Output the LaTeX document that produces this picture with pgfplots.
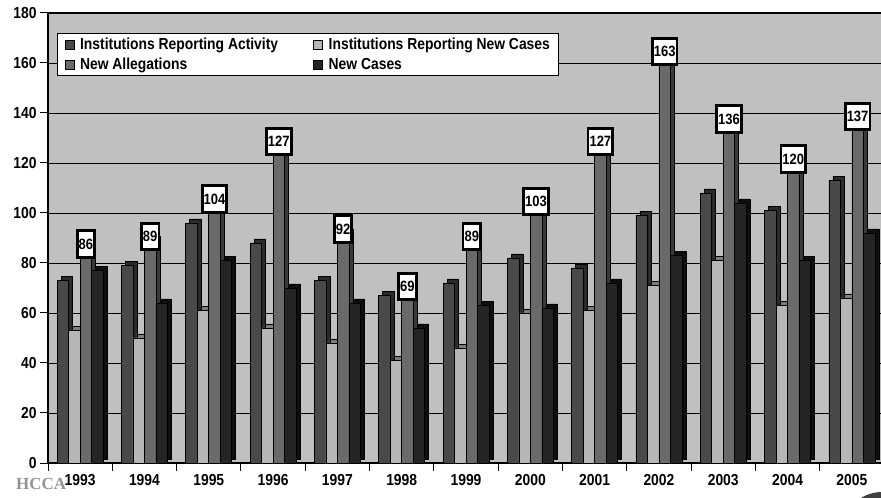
\documentclass[border=0pt]{standalone}
\usepackage{pgfplots}
\pgfplotsset{compat=1.18}
\usepackage{pgfplotstable}
\usepackage{fontspec}
\setmainfont{Liberation Sans}[FakeStretch=0.87]
\newfontfamily\serifb{Liberation Serif}
\definecolor{bg}{HTML}{C0C0C0}
\definecolor{cIRA}{HTML}{494949}
\definecolor{cIRNC}{HTML}{B6B6B6}
\definecolor{cNA}{HTML}{6A6A6A}
\definecolor{cNC}{HTML}{252525}
\definecolor{sIRA}{HTML}{2A2A2A}
\definecolor{sIRNC}{HTML}{7C7C7C}
\definecolor{sNA}{HTML}{3A3A3A}
\definecolor{sNC}{HTML}{0E0E0E}

\pgfplotstableread{
x IRA IRNC NA NC
0 73 53 86 77
1 79 50 89 64
2 96 61 104 81
3 88 54 127 70
4 73 48 92 64
5 67 41 69 54
6 72 46 89 63
7 82 60 103 62
8 78 61 127 72
9 99 71 163 83
10 108 81 136 104
11 101 63 120 81
12 113 66 137 92
}\data

\begin{document}
\begin{tikzpicture}
\path[use as bounding box] (0,0) rectangle (881bp,498bp);
\begin{axis}[
  at={(48bp,35bp)}, anchor=south west,
  scale only axis, width=836bp, height=450bp,
  xmin=-0.5, xmax=12.5, ymin=0, ymax=180,
  axis background/.style={fill=bg},
  axis line style={line width=1.4bp},
  ybar=0pt, bar width=11.5bp,
  ytick={0,20,...,180},
  ymajorgrids, grid style={black, line width=0.8bp},
  tick align=outside, major tick length=8bp,
  tick style={black, line width=1bp},
  xtick={0,...,12},
  xticklabels={1993,1994,1995,1996,1997,1998,1999,2000,2001,2002,2003,2004,2005},
  xtick style={draw=none},
  extra x ticks={-0.5,0.5,...,12.5},
  extra x tick labels={},
  extra x tick style={grid=none, xtick style={draw=black}},
  ytick pos=left, xtick pos=bottom,
  /pgf/number format/assume math mode=true,
  ticklabel style={font=\fontsize{16}{16}\selectfont\bfseries},
  legend columns=2,
  legend cell align=left,
  legend style={at={(0.0108,0.956)}, anchor=north west, draw=black, fill=white,
    font=\fontsize{16}{16}\selectfont\bfseries, line width=1bp,
    inner xsep=7bp, inner ysep=2.5bp, row sep=3bp,
    /tikz/every even column/.append style={column sep=33bp}},
  legend image code/.code={\draw[#1, draw=black, line width=0.6bp] (0bp,-4.5bp) rectangle (9bp,4.5bp); \path (13bp,0bp);},
  nodes near coords style={fill=white, draw=black, line width=2.8bp,
    inner xsep=1.5bp, inner ysep=8bp, anchor=center, yshift=4bp,
    font=\fontsize{15}{15}\selectfont\bfseries, text=black},
]
% Institutions Reporting Activity
\addplot[forget plot, fill=sIRA, draw=black, line width=0.6bp, bar shift=-17.25bp, xshift=4bp, yshift=4bp] table[x=x,y=IRA]{\data};
\addplot[fill=cIRA, draw=black, line width=0.6bp, bar shift=-17.25bp] table[x=x,y=IRA]{\data};
% Institutions Reporting New Cases
\addplot[forget plot, fill=sIRNC, draw=black, line width=0.6bp, bar shift=-5.75bp, xshift=4bp, yshift=4bp] table[x=x,y=IRNC]{\data};
\addplot[fill=cIRNC, draw=black, line width=0.6bp, bar shift=-5.75bp] table[x=x,y=IRNC]{\data};
% New Allegations
\addplot[forget plot, fill=sNA, draw=black, line width=0.6bp, bar shift=5.75bp, xshift=4bp, yshift=4bp] table[x=x,y=NA]{\data};
\addplot[fill=cNA, draw=black, line width=0.6bp, bar shift=5.75bp] table[x=x,y=NA]{\data};
% New Cases
\addplot[forget plot, fill=sNC, draw=black, line width=0.6bp, bar shift=17.25bp, xshift=4bp, yshift=4bp] table[x=x,y=NC]{\data};
\addplot[fill=cNC, draw=black, line width=0.6bp, bar shift=17.25bp] table[x=x,y=NC]{\data};
% value labels for New Allegations
\addplot[forget plot, draw=none, fill=none, bar shift=5.75bp, nodes near coords] table[x=x,y=NA]{\data};
\legend{Institutions Reporting Activity, Institutions Reporting New Cases, New Allegations, New Cases}
\end{axis}
\node[anchor=south west, inner sep=0pt, font=\serifb\bfseries\fontsize{17}{17}\selectfont, text=gray!85] at (16bp,8bp) {HCCA};
\fill[black!75] (882bp,-34bp) circle (40bp);
\end{tikzpicture}
\end{document}
